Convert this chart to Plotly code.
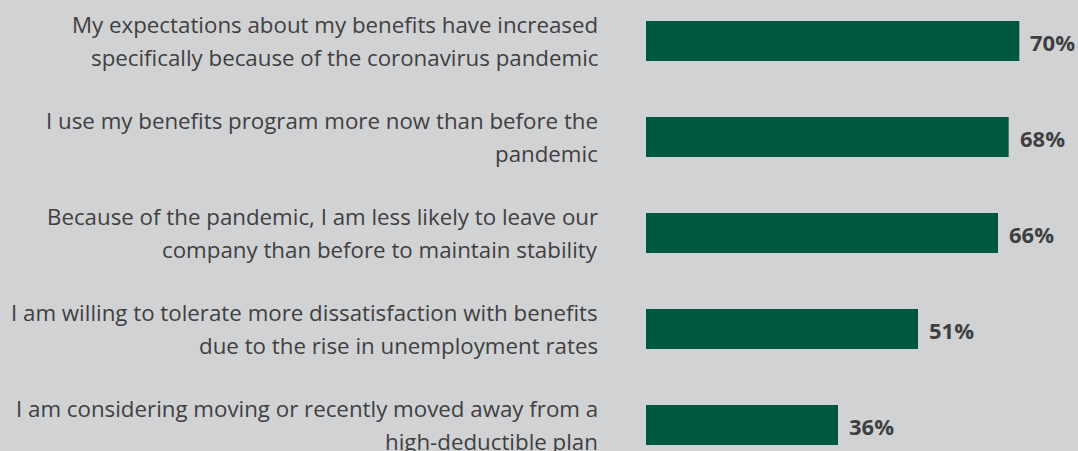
import plotly.graph_objects as go

labels = [
    ["My expectations about my benefits have increased", "specifically because of the coronavirus pandemic"],
    ["I use my benefits program more now than before the", "pandemic"],
    ["Because of the pandemic, I am less likely to leave our", "company than before to maintain stability"],
    ["I am willing to tolerate more dissatisfaction with benefits", "due to the rise in unemployment rates"],
    ["I am considering moving or recently moved away from a", "high-deductible plan"],
]
values = [70, 68, 66, 51, 36]

BG = "#d1d2d4"
BAR = "#005740"
TXT = "#3f3f41"
FONT = "Open Sans"

ypos = list(range(len(values)))

fig = go.Figure(go.Bar(
    x=values, y=ypos, orientation="h",
    marker=dict(color=BAR, line=dict(width=0)),
    width=0.417, hoverinfo="skip",
))

ann = []
for i, (lines, v) in enumerate(zip(labels, values)):
    n = len(lines)
    for j, ln in enumerate(lines):
        ann.append(dict(
            x=0, y=i, xref="x", yref="y", text=ln, showarrow=False,
            xanchor="right", yanchor="middle", align="right",
            xshift=-46, yshift=(n - 1) * 16.5 - j * 33,
            font=dict(family=FONT, size=22.3, color=TXT),
        ))
    ann.append(dict(
        x=v, y=i, xref="x", yref="y", text=f"{v}%", showarrow=False,
        xanchor="left", yanchor="middle", xshift=9, yshift=-1,
        font=dict(family="Open Sans", size=22, color=TXT, weight="bold"),
    ))

fig.update_layout(
    width=1078, height=451,
    margin=dict(l=646, r=0, t=0, b=0),
    paper_bgcolor=BG, plot_bgcolor=BG,
    showlegend=False,
    annotations=ann,
    xaxis=dict(range=[0, 81.0], visible=False, fixedrange=True),
    yaxis=dict(range=[4.271, -0.427], visible=False, fixedrange=True),
)

fig.write_html("out.html")
